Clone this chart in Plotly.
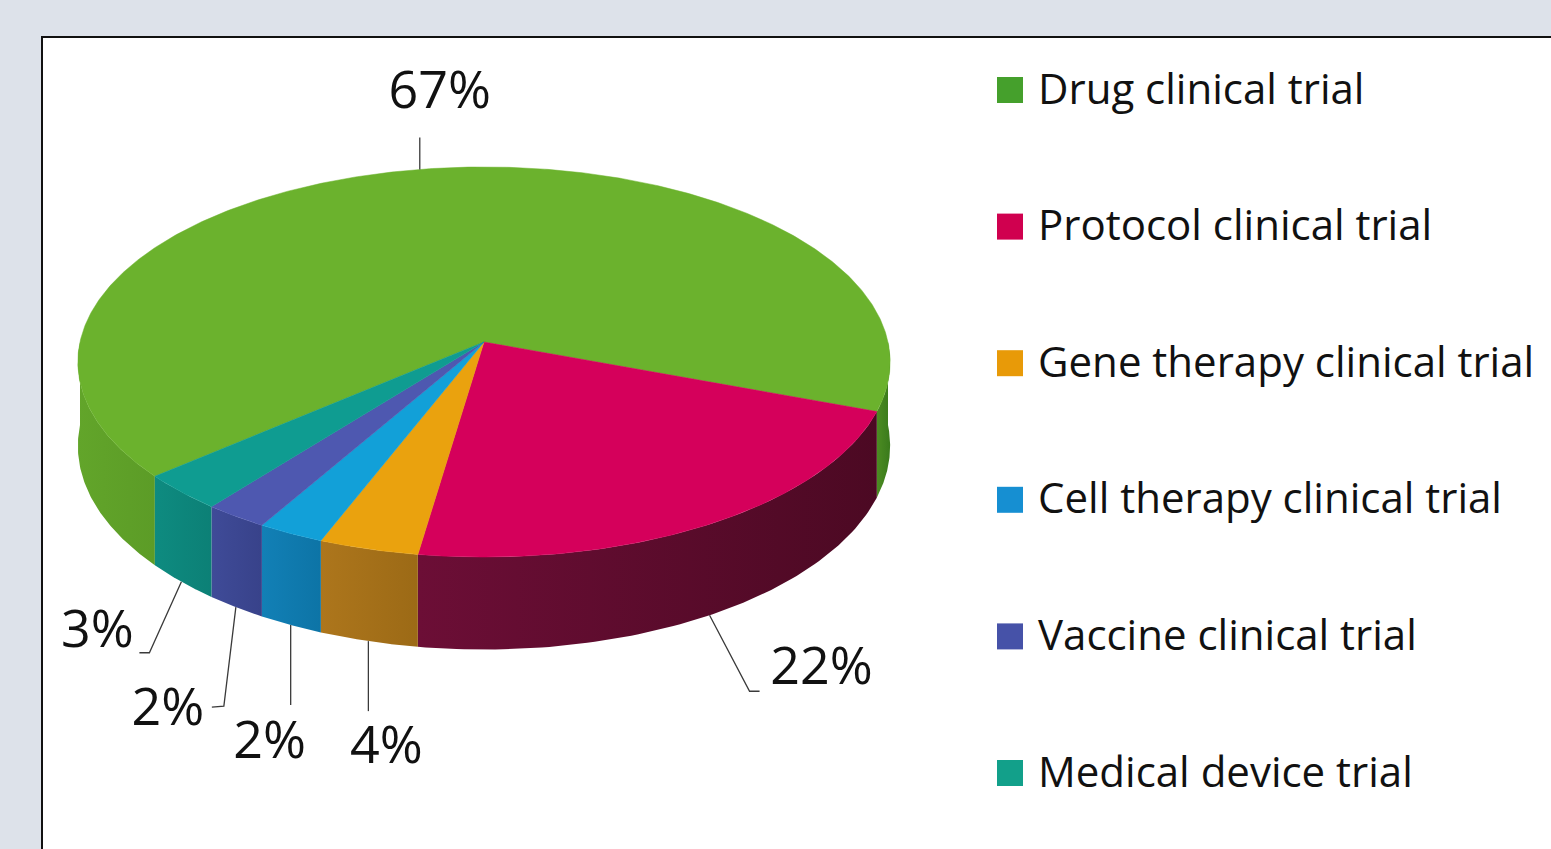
import numpy as np
import plotly.graph_objects as go

# ---------------- data ----------------
categories = [
    "Drug clinical trial",
    "Protocol clinical trial",
    "Gene therapy clinical trial",
    "Cell therapy clinical trial",
    "Vaccine clinical trial",
    "Medical device trial",
]
shares = [66.9, 21.7, 3.6, 2.4, 2.3, 3.1]   # percent

# ---------------- style ----------------
top_colors = ["#6bb22d", "#d5005b", "#eaa20e", "#12a0d8", "#4e58b0", "#0f9c91"]
# side wall colours: [left-half pair, right-half pair] (horizontal gradient)
side_colors = [
    [["#62a52a", "#5c9c27"], ["#4c8c22", "#3a7a1c"]],
    [["#72103a", "#5a0b2c"], ["#6c0e36", "#4c0923"]],
    [["#ad761c", "#9c6a16"], ["#ad761c", "#9c6a16"]],
    [["#1280b6", "#0d74a6"], ["#1280b6", "#0d74a6"]],
    [["#3f4b98", "#38428a"], ["#3f4b98", "#38428a"]],
    [["#0e8b80", "#0c8076"], ["#0e8b80", "#0c8076"]],
]
legend_colors = ["#45a02c", "#d0004f", "#e89a08", "#168fd2", "#4652a8", "#12a08a"]

# pie geometry (page pixel coordinates, perspective ellipse)
CX, CY = 484.0, 342.0
A, B = 404.0, 193.0
K = 0.1026
DEPTH = 83.0
START = 139.5          # angle (deg) where the first slice starts, clockwise on screen

# label layout: leader offsets relative to the slice anchor, text offset
label_paths = [
    [(0, 0), (0, -32)],
    [(0, 0), (40, 76), (50, 76)],
    [(0, 0), (0, 70)],
    [(0, 0), (0, 80)],
    [(0, 0), (-12, 99), (-24, 100)],
    [(0, 0), (-32, 71), (-42, 71)],
]
label_text_offsets = [(20, -74), (112, 56), (18, 109), (-21, 120), (-68, 105), (-84, 52)]

LEG_X, LEG_Y0, LEG_STEP = 1010.0, 90.0, 136.6


def proj(theta_deg, drop=0.0):
    t = np.radians(np.asarray(theta_deg, dtype=float))
    u, v = np.cos(t), np.sin(t)
    w = 1.0 - K * v
    return CX + A * u / w, CY + B * v / w + drop / w


fig = go.Figure()

total = float(sum(shares))
bounds = []
a = START
for s in shares:
    b = a + 360.0 * s / total
    bounds.append((a, b))
    a = b

# side walls (front half only)
for i, (a, b) in enumerate(bounds):
    for off in (-360.0, 0.0, 360.0):
        lo, hi = max(a, off), min(b, off + 180.0)
        if hi <= lo:
            continue
        th = np.linspace(lo, hi, 80)
        xt, yt = proj(th)
        xb, yb = proj(th[::-1], DEPTH)
        mid_local = ((lo + hi) / 2.0) - off
        pair = side_colors[i][1] if mid_local < 90 else side_colors[i][0]
        fig.add_trace(go.Scatter(
            x=np.concatenate([xt, xb, xt[:1]]),
            y=np.concatenate([yt, yb, yt[:1]]),
            mode="lines", fill="toself",
            line=dict(width=0, color=pair[0]),
            fillcolor=pair[0],
            fillgradient=dict(type="horizontal",
                              colorscale=[[0, pair[0]], [1, pair[1]]]),
            hoverinfo="skip", showlegend=False,
        ))

# top faces
for i, (a, b) in enumerate(bounds):
    th = np.linspace(a, b, max(int((b - a) * 2), 20))
    xr, yr = proj(th)
    fig.add_trace(go.Scatter(
        x=np.concatenate([[CX], xr, [CX]]),
        y=np.concatenate([[CY], yr, [CY]]),
        mode="lines", fill="toself",
        line=dict(width=0.5, color=top_colors[i]),
        fillcolor=top_colors[i],
        hoverinfo="skip", showlegend=False,
    ))

# data labels with leader lines
lab_x, lab_y, lab_t = [], [], []
for i, (a, b) in enumerate(bounds):
    mid = (a + b) / 2.0
    back = np.sin(np.radians(mid)) < 0
    ax_, ay_ = proj(mid, 0.0 if back else DEPTH)
    ax_, ay_ = float(ax_), float(ay_)
    px = [ax_ + dx for dx, dy in label_paths[i]]
    py = [ay_ + dy for dx, dy in label_paths[i]]
    fig.add_trace(go.Scatter(x=px, y=py, mode="lines",
                             line=dict(color="#3a3a3a", width=1.3),
                             hoverinfo="skip", showlegend=False))
    lab_x.append(ax_ + label_text_offsets[i][0])
    lab_y.append(ay_ + label_text_offsets[i][1])
    lab_t.append(f"{round(shares[i])}%")

fig.add_trace(go.Scatter(
    x=lab_x, y=lab_y, mode="text", text=lab_t,
    textposition="middle center",
    textfont=dict(family="Open Sans", size=52, color="#111111"),
    hoverinfo="skip", showlegend=False, cliponaxis=False,
))

# legend (drawn as marks on the same axes)
leg_y = [LEG_Y0 + LEG_STEP * i for i in range(len(categories))]
fig.add_trace(go.Scatter(
    x=[LEG_X] * len(categories), y=leg_y, mode="markers",
    marker=dict(symbol="square", size=26, color=legend_colors, line=dict(width=0)),
    hoverinfo="skip", showlegend=False, cliponaxis=False,
))
fig.add_trace(go.Scatter(
    x=[LEG_X + 28] * len(categories), y=[y + 3 for y in leg_y], mode="text", text=categories,
    textposition="middle right",
    textfont=dict(family="Open Sans", size=42, color="#111111"),
    hoverinfo="skip", showlegend=False, cliponaxis=False,
))

fig.update_layout(
    width=1551, height=849,
    margin=dict(l=43, r=0, t=38, b=0, pad=0),
    paper_bgcolor="#dde2ea",
    plot_bgcolor="#ffffff",
    showlegend=False,
    xaxis=dict(range=[43, 1551], side="top", showline=True, linecolor="#111111",
               linewidth=2, showgrid=False, zeroline=False, showticklabels=False,
               ticks="", fixedrange=True),
    yaxis=dict(range=[849, 38], showline=True, linecolor="#111111",
               linewidth=2, showgrid=False, zeroline=False, showticklabels=False,
               ticks="", fixedrange=True),
)

fig.write_html("out.html", config={"displayModeBar": False},
               post_script="document.body.style.margin='0';")
